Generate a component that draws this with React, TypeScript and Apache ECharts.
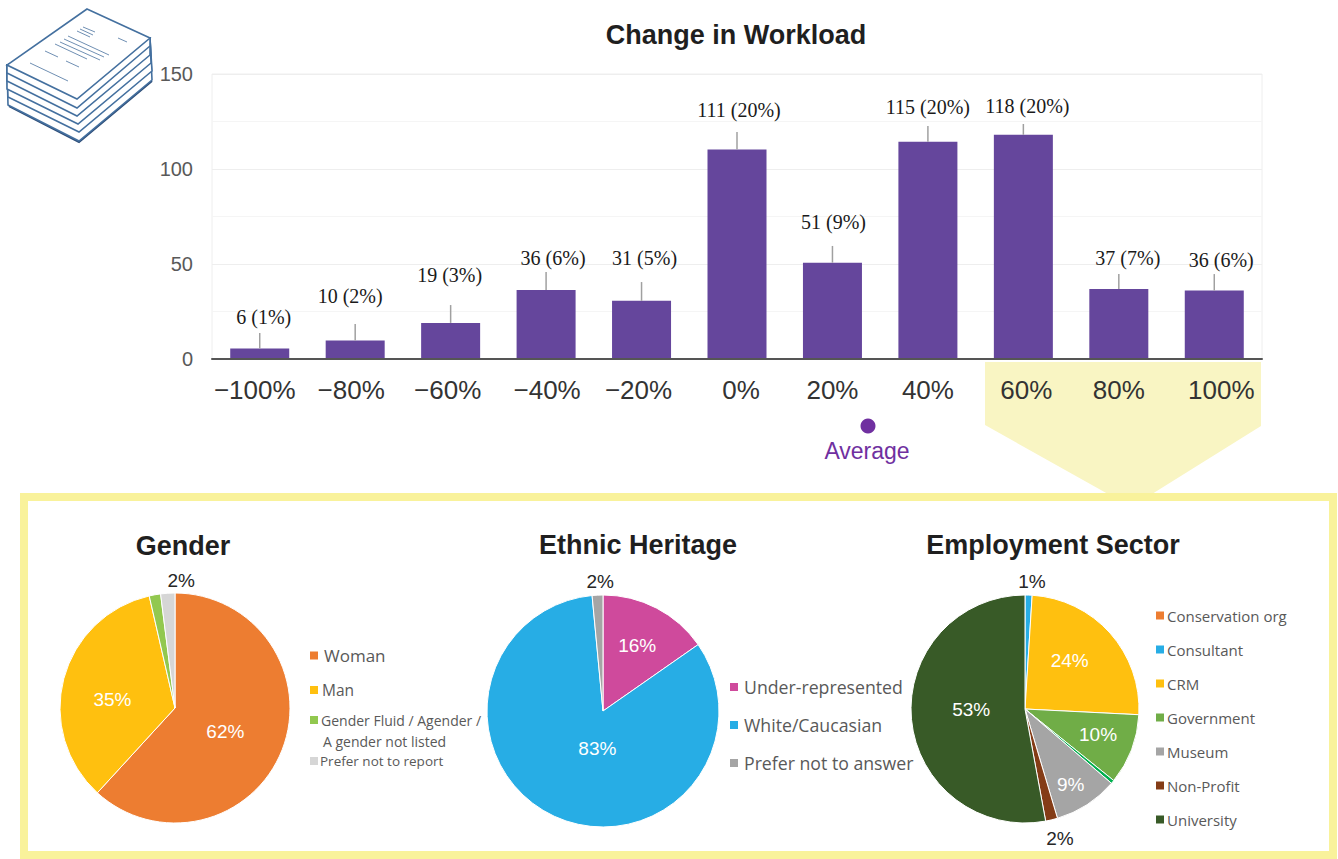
import React, { useEffect, useRef } from "react";
import * as echarts from "echarts";

const categories = ["−100%", "−80%", "−60%", "−40%", "−20%", "0%", "20%", "40%", "60%", "80%", "100%"];
const tickShifts = [-5, -4, -3, 1, -3, 4, 0, 0, 3, 0, 7];
const barHeights = [5.5, 9.8, 19, 36.3, 30.6, 110.3, 50.7, 114.4, 118, 36.8, 36];
const barLabels = ["6 (1%)", "10 (2%)", "19 (3%)", "36 (6%)", "31 (5%)", "111 (20%)", "51 (9%)", "115 (20%)", "118 (20%)", "37 (7%)", "36 (6%)"];
const whiskerTops = [13.7, 18.4, 28.4, 45.8, 40.5, 119.5, 59.5, 122.6, 123.7, 44.7, 44.7];
const labelLevels = [22.1, 33.2, 44.2, 53.2, 53.2, 131, 72, 132.6, 133.2, 53.2, 52.1];
const labelShifts = [4, -5, -1, 7, 3, 2, 1, 0, 4, 9, 7];

const genderNames = ["Woman", "Man", "Gender Fluid / Agender /", "Prefer not to report"];
const genderValues = [61.8, 34.6, 1.6, 2.0];
const genderLabels = ["62%", "35%", "", "2%"];
const genderColors = ["#ed7d31", "#ffc00f", "#92c84f", "#d6d6d6"];

const ethnicNames = ["Under-represented", "White/Caucasian", "Prefer not to answer"];
const ethnicValues = [15.3, 83.2, 1.5];
const ethnicLabels = ["16%", "83%", "2%"];
const ethnicColors = ["#cf4a9c", "#27ade5", "#a5a5a5"];

const sectorNames = ["Conservation org", "Consultant", "CRM", "Government", "Other", "Museum", "Non-Profit", "University"];
const sectorValues = [0, 1, 24.8, 10, 0.5, 9.1, 1.7, 52.9];
const sectorLabels = ["", "1%", "24%", "10%", "", "9%", "2%", "53%"];
const sectorColors = ["#ed7d31", "#27ade5", "#ffc00f", "#70ad47", "#00b050", "#a5a5a5", "#843c16", "#385a27"];

const pageLayers = [
  [[8, 105], [79, 141], [152, 80]],
  [[8, 97], [79, 132], [152, 71]],
  [[7, 89], [78, 124], [151, 63]],
  [[7, 81], [77, 116], [150, 55]],
  [[7, 73], [77, 108], [150, 46]],
];
const topPage = [[87, 9], [150, 38], [77, 99], [7, 65]];
const pageLines = [
  [83, 27, 95, 32], [80, 29, 93, 35], [77, 31, 90, 37], [68, 36, 109, 55], [64, 39, 104, 57],
  [60, 42, 100, 60], [55, 44, 87, 59], [45, 51, 58, 57], [66, 61, 79, 67], [30, 63, 68, 81], [118, 38, 127, 42],
];

function pieSeries(center: number[], radius: number, names: string[], values: number[], labels: string[], colors: string[], shifts: number[][]) {
  return {
    type: "pie",
    center,
    radius,
    startAngle: 90,
    clockwise: true,
    avoidLabelOverlap: false,
    data: names.map((name, i) => ({
      name,
      value: values[i],
      itemStyle: { color: colors[i], borderColor: "#fff", borderWidth: 1 },
      label: {
        show: labels[i] !== "",
        formatter: labels[i],
        position: "inside",
        color: shifts[i][2] ? "#262626" : "#fff",
        fontSize: 19,
        fontFamily: "Liberation Sans",
      },
      labelLine: { show: false },
    })),
    labelLayout: (p: any) => ({ dx: shifts[p.dataIndex][0], dy: shifts[p.dataIndex][1] }),
  };
}

function legendOf(left: number, top: number, gap: number, names: string[], size: number, pull: number) {
  return {
    orient: "vertical",
    left,
    top,
    itemGap: gap,
    itemWidth: 10,
    itemHeight: 10,
    icon: "rect",
    selectedMode: false,
    padding: 0,
    data: names.map((name) => ({
      name,
      textStyle: { fontSize: size, color: "#595959", fontFamily: "Open Sans", padding: [0, 0, 0, pull] },
    })),
  };
}

const titleOf = (text: string, x: number, y: number) => ({
  text,
  left: x,
  top: y,
  textAlign: "center",
  padding: 0,
  textStyle: { fontSize: 27, fontWeight: "bold", color: "#1f1f1f", fontFamily: "Liberation Sans" },
});

export default function App() {
  const ref = useRef<HTMLDivElement>(null);
  useEffect(() => {
    const chart = echarts.init(ref.current!, null, { renderer: "svg" });
    const icon: any[] = [
      { type: "polyline", z: 1, shape: { points: [[9, 106], [79, 142], [152, 81]] }, style: { fill: "none", stroke: "#2f4f7a", lineWidth: 2 } },
      ...pageLayers.map((l) => ({
        type: "polygon",
        z: 1,
        shape: { points: [[7, 65], ...l, [150, 38]] },
        style: { fill: "#fff", stroke: "#44709f", lineWidth: 1.6 },
      })),
      { type: "polygon", z: 1, shape: { points: topPage }, style: { fill: "#fff", stroke: "#44709f", lineWidth: 1.6 } },
      ...pageLines.map((s) => ({
        type: "line",
        z: 1,
        shape: { x1: s[0], y1: s[1], x2: s[2], y2: s[3] },
        style: { stroke: "#6f8fb3", lineWidth: 1 },
      })),
    ];
    const tickRich: any = {};
    tickShifts.forEach((s, i) => {
      tickRich["t" + i] = {
        fontSize: 26,
        color: "#333",
        fontFamily: "Liberation Sans",
        padding: s >= 0 ? [0, 0, 0, 2 * s] : [0, -2 * s, 0, 0],
      };
    });
    chart.setOption({
      animation: false,
      backgroundColor: "#fff",
      title: [
        titleOf("Change in Workload", 736, 21),
        titleOf("Gender", 183, 532),
        titleOf("Ethnic Heritage", 638, 531),
        titleOf("Employment Sector", 1053, 531),
      ],
      grid: { left: 212, top: 74, width: 1050, height: 285, show: true, borderColor: "#eeeeee", borderWidth: 1 },
      xAxis: {
        type: "category",
        data: categories,
        axisTick: { show: false },
        axisLine: { lineStyle: { color: "#555", width: 2 } },
        axisLabel: {
          margin: 18,
          interval: 0,
          formatter: (v: string, i: number) => `{t${i}|${v}}`,
          rich: tickRich,
        },
        z: 5,
      },
      yAxis: {
        type: "value",
        min: 0,
        max: 150,
        interval: 50,
        axisLine: { show: false },
        axisTick: { show: false },
        axisLabel: { fontSize: 20, color: "#595959", fontFamily: "Liberation Sans", margin: 19 },
        splitLine: { lineStyle: { color: "#eeeeee" } },
        minorTick: { show: false, splitNumber: 2 },
        minorSplitLine: { show: true, lineStyle: { color: "#f5f5f5" } },
      },
      legend: [
        legendOf(308, 647, 0, [genderNames[0]], 17, 0),
        legendOf(308, 682, 0, [genderNames[1]], 15.5, -2),
        legendOf(308, 713, 0, [genderNames[2]], 14, -3),
        legendOf(308, 754, 0, [genderNames[3]], 13.5, -4),
        legendOf(728, 678, 20, ethnicNames, 17.7, 0),
        legendOf(1154, 608, 19, sectorNames.filter((n) => n !== "Other"), 15, -3),
      ],
      series: [
        {
          type: "bar",
          data: barHeights,
          barWidth: 59,
          itemStyle: { color: "#65469c" },
          z: 2,
        },
        {
          type: "custom",
          z: 3,
          data: barHeights.map((c, i) => [i, c, whiskerTops[i], labelLevels[i]]),
          renderItem: (_: any, api: any) => {
            const i = api.value(0);
            const base = api.coord([i, api.value(1)]);
            const top = api.coord([i, api.value(2)]);
            const lab = api.coord([i, api.value(3)]);
            return {
              type: "group",
              children: [
                {
                  type: "line",
                  shape: { x1: base[0], y1: base[1], x2: top[0], y2: top[1] },
                  style: { stroke: "#a0a0a0", lineWidth: 1.5 },
                },
                {
                  type: "text",
                  x: lab[0] + labelShifts[i],
                  y: lab[1],
                  style: {
                    text: barLabels[i],
                    fill: "#1a1a1a",
                    fontSize: 20,
                    fontFamily: "Liberation Serif",
                    align: "center",
                    verticalAlign: "middle",
                  },
                },
              ],
            };
          },
        },
        pieSeries([175, 708], 115, genderNames, genderValues, genderLabels, genderColors, [[-6, 2], [-4, 7], [0, 0], [10, -67, 1]]),
        pieSeries([603, 711], 116, ethnicNames, ethnicValues, ethnicLabels, ethnicColors, [[6, -11], [20, -18], [0, -69, 1]]),
        pieSeries([1025, 709], 114, sectorNames, sectorValues, sectorLabels, sectorColors, [[0, 0], [5, -68, 1], [0, -9], [17, 4], [0, 0], [13, 25], [21, 71, 1], [6, -5]]),
      ],
      graphic: [
        { type: "polygon", z: 0, shape: { points: [[985, 362], [1261, 362], [1261, 426], [1152, 494], [1108, 494], [985, 425]] }, style: { fill: "#f9f5c3" } },
        { type: "rect", z: 0, shape: { x: 24, y: 497, width: 1309, height: 358 }, style: { fill: "none", stroke: "#f9f29b", lineWidth: 8 } },
        { type: "circle", z: 1, shape: { cx: 868, cy: 426, r: 7.5 }, style: { fill: "#7030a0" } },
        { type: "text", z: 1, x: 867, y: 451, style: { text: "Average", fill: "#7030a0", fontSize: 23, fontFamily: "Liberation Sans", align: "center", verticalAlign: "middle" } },
        { type: "text", z: 1, x: 323, y: 741, style: { text: "A gender not listed", fill: "#595959", fontSize: 14, fontFamily: "Open Sans", align: "left", verticalAlign: "middle" } },
        ...icon,
      ],
    });
    return () => chart.dispose();
  }, []);
  return <div ref={ref} style={{ position: "absolute", left: 0, top: 0, width: 1338, height: 859 }} />;
}
